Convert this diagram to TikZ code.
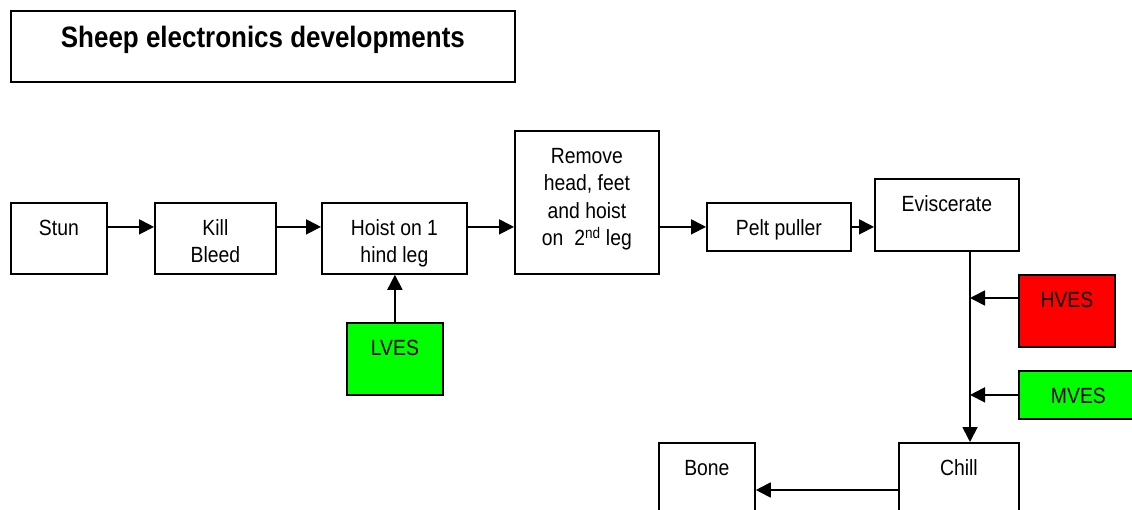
\documentclass[tikz,border=0pt]{standalone}
\usepackage{fontspec}
\setmainfont[FakeStretch=0.88]{Liberation Sans}
\usetikzlibrary{arrows.meta,calc}
\definecolor{vgreen}{RGB}{0,255,0}
\definecolor{vred}{RGB}{255,0,0}
\newcommand\mlines[1]{\vtop{\baselineskip=27.5pt\halign{\hfil##\hfil\cr#1\crcr}}}
\tikzset{
  box/.style={draw, line width=1.8pt, rectangle, anchor=north west, inner sep=0pt,
    text height=32.5pt, font=\fontsize{22}{27.5}\selectfont},
  flow/.style={line width=1.8pt, -{Triangle[length=15pt,width=15pt]}},
}
\begin{document}
\begin{tikzpicture}[x=1pt,y=-1pt]
\clip (0,0) rectangle (1132,510);
\fill[white] (0,0) rectangle (1132,510);
% title
\node[box, minimum width=504pt, minimum height=71pt, text height=37pt, text depth=34pt,
  font=\bfseries\fontsize{29.5}{32}\selectfont] (title) at (10,10) {Sheep electronics developments};
% main row
\node[box, minimum width=96pt, minimum height=71pt, text depth=38.5pt] (stun) at (10,202) {Stun};
\node[box, minimum width=121pt, minimum height=71pt, text depth=38.5pt] (kill) at (154,202) {\mlines{Kill\cr Bleed}};
\node[box, minimum width=145pt, minimum height=71pt, text depth=38.5pt] (hoist) at (321,202) {\mlines{Hoist on 1\cr hind leg}};
\node[box, minimum width=144pt, minimum height=143pt, text depth=110.5pt] (remove) at (514,130)
  {\mlines{Remove\cr head, feet\cr and hoist\cr on~~2\textsuperscript{nd} leg}};
\node[box, minimum width=144pt, minimum height=48pt, text depth=15.5pt] (pelt) at (706,202) {Pelt puller};
\node[box, minimum width=144pt, minimum height=72pt, text depth=39.5pt] (evis) at (874,178) {Eviscerate};
% stimulation boxes
\node[box, fill=vgreen, minimum width=96pt, minimum height=72pt, text depth=39.5pt] (lves) at (346,322) {LVES};
\node[box, fill=vred, minimum width=96pt, minimum height=72pt, text depth=39.5pt] (hves) at (1018,274) {HVES};
\node[box, fill=vgreen, minimum width=119pt, minimum height=48pt, text depth=15.5pt] (mves) at (1018,370) {MVES};
% lower row
\node[box, minimum width=120pt, minimum height=100pt, text depth=67.5pt] (chill) at (898,442) {Chill};
\node[box, minimum width=96pt, minimum height=100pt, text depth=67.5pt] (bone) at (658,442) {Bone};
% connectors
\draw[flow] (stun.east |- pelt.west) -- (kill.west |- pelt.west);
\draw[flow] (kill.east |- pelt.west) -- (hoist.west |- pelt.west);
\draw[flow] (hoist.east |- pelt.west) -- (remove.west |- pelt.west);
\draw[flow] (remove.east |- pelt.west) -- (pelt.west);
\draw[flow] (pelt.east) -- (pelt.east -| evis.west);
\draw[flow] (lves.north) -- (lves.north |- hoist.south);
\coordinate (j) at ([xshift=96pt]evis.south west);
\coordinate (hout) at ([yshift=-24pt]hves.north west);
\coordinate (cout) at ([yshift=-48pt]chill.north west);
\draw[flow] (j) -- (j |- chill.north);
\draw[flow] (hout) -- (j |- hout);
\draw[flow] (mves.west) -- (mves.west -| j);
\draw[flow] (cout) -- (bone.east |- cout);
\end{tikzpicture}
\end{document}
